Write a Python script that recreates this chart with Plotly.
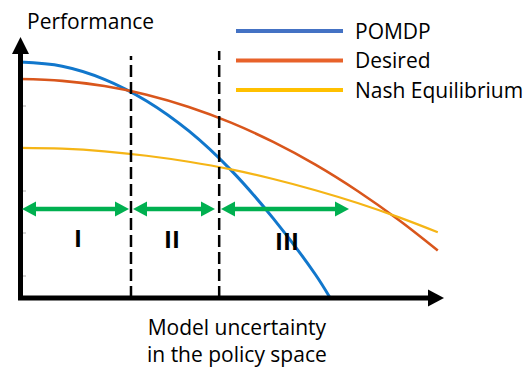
import plotly.graph_objects as go

# conceptual curves, values (x = model uncertainty, y = performance)
x_pomdp = [0, 1, 2, 3, 4, 5, 6, 7, 7.35]
y_pomdp = [9.04, 8.88, 8.38, 7.55, 6.40, 4.90, 3.05, 0.90, 0.0]

x_desired = [0, 1, 2, 3, 4, 5, 6, 7, 8, 9, 9.9]
y_desired = [8.39, 8.32, 8.12, 7.79, 7.32, 6.72, 5.98, 5.11, 4.10, 2.96, 1.82]

x_nash = [0, 1, 2, 3, 4, 5, 6, 7, 8, 9, 9.9]
y_nash = [5.75, 5.72, 5.62, 5.45, 5.22, 4.93, 4.56, 4.13, 3.64, 3.08, 2.52]

series_names = ["POMDP", "Desired", "Nash Equilibrium"]
curve_colors = ["#1177CC", "#D9561C", "#F5B516"]
legend_colors = ["#4472C4", "#E8622A", "#FFC000"]

region_labels = ["I", "II", "III"]
boundaries = [2.63, 4.72]  # dashed separators

FONT = "Open Sans"
W, H = 532, 377
X0, Y0, SX, SY = 20, 298, 42.2, 26.1  # pixel origin and pixels per unit


def dx(px):
    return (px - X0) / SX


def dy(py):
    return (Y0 - py) / SY


def tri(tip, base_x, half, y, horizontal=True):
    # filled triangle path in data coords (pixel inputs)
    if horizontal:
        pts = [(tip, y), (base_x, y - half), (base_x, y + half)]
    else:
        pts = [(y, tip), (y - half, base_x), (y + half, base_x)]
    return "M " + " L ".join(f"{dx(a)},{dy(b)}" for a, b in pts) + " Z"


fig = go.Figure()
widths = [3, 2.6, 2.2]
for xs, ys, name, c, w in zip([x_pomdp, x_desired, x_nash], [y_pomdp, y_desired, y_nash],
                              series_names, curve_colors, widths):
    fig.add_trace(go.Scatter(x=xs, y=ys, mode="lines", name=name,
                             line=dict(color=c, width=w, shape="spline"),
                             showlegend=False, hoverinfo="skip"))

shapes = []
# axes
shapes.append(dict(type="line", x0=dx(20.5), y0=dy(298), x1=dx(20.5), y1=dy(52),
                   line=dict(color="black", width=5)))
shapes.append(dict(type="path", path=tri(37, 54, 8.5, 20.5, horizontal=False),
                   fillcolor="black", line=dict(width=0)))
shapes.append(dict(type="line", x0=dx(18), y0=dy(298), x1=dx(429), y1=dy(298),
                   line=dict(color="black", width=5)))
shapes.append(dict(type="path", path=tri(444, 428, 8.5, 298),
                   fillcolor="black", line=dict(width=0)))
# faint y ticks
for ty in [106, 191, 233, 276]:
    shapes.append(dict(type="line", x0=dx(23), y0=dy(ty), x1=dx(26), y1=dy(ty),
                       line=dict(color="#b0b0b0", width=1)))

# dashed separators
for b, top in zip(boundaries, [56, 51]):
    shapes.append(dict(type="line", x0=b, y0=0, x1=b, y1=dy(top),
                       line=dict(color="black", width=2.5, dash="12px,5px")))

# green double arrows
green = "#00B050"
for a, b in [(22, 129), (133, 215), (221, 349)]:
    shapes.append(dict(type="line", x0=dx(a + 10), y0=dy(209), x1=dx(b - 10), y1=dy(209),
                       line=dict(color=green, width=4.5)))
    shapes.append(dict(type="path", path=tri(a, a + 14, 7.5, 209), fillcolor=green, line=dict(width=0)))
    shapes.append(dict(type="path", path=tri(b, b - 14, 7.5, 209), fillcolor=green, line=dict(width=0)))

# legend lines
for i, c in enumerate(legend_colors):
    py = 31 + i * 29.5
    shapes.append(dict(type="line", xref="paper", yref="paper",
                       x0=236 / W, x1=343 / W, y0=1 - py / H, y1=1 - py / H,
                       line=dict(color=c, width=4)))

annotations = []
for i, name in enumerate(series_names):
    py = 31 + i * 29.5
    annotations.append(dict(xref="paper", yref="paper", x=353 / W, y=1 - py / H,
                            xanchor="left", yanchor="middle", text=name, showarrow=False,
                            font=dict(family=FONT, size=21, color="black")))

annotations.append(dict(xref="paper", yref="paper", x=25 / W, y=1 - 21 / H,
                        xanchor="left", yanchor="middle", text="Performance", showarrow=False,
                        font=dict(family=FONT, size=21, color="black")))
annotations.append(dict(xref="paper", yref="paper", x=237 / W, y=1 - 340 / H,
                        xanchor="center", yanchor="middle",
                        text="Model uncertainty<br>in the policy space", showarrow=False,
                        font=dict(family=FONT, size=21, color="black")))

for lab, px, py in zip(region_labels, [78, 172, 287], [237, 238, 240]):
    annotations.append(dict(x=dx(px), y=dy(py), text=f"<b>{lab}</b>", showarrow=False,
                            font=dict(family=FONT, size=24, color="black")))

fig.update_layout(
    width=W, height=H,
    margin=dict(l=0, r=0, t=0, b=0),
    plot_bgcolor="white", paper_bgcolor="white",
    xaxis=dict(range=[dx(0), dx(W)], visible=False, fixedrange=True),
    yaxis=dict(range=[dy(H), dy(0)], visible=False, fixedrange=True),
    shapes=shapes, annotations=annotations,
)

# page body has an 8px default margin; drop it so the figure sits at the window corner
fig.write_html("out.html", config={"displayModeBar": False},
               post_script="document.body.style.margin='0';")
